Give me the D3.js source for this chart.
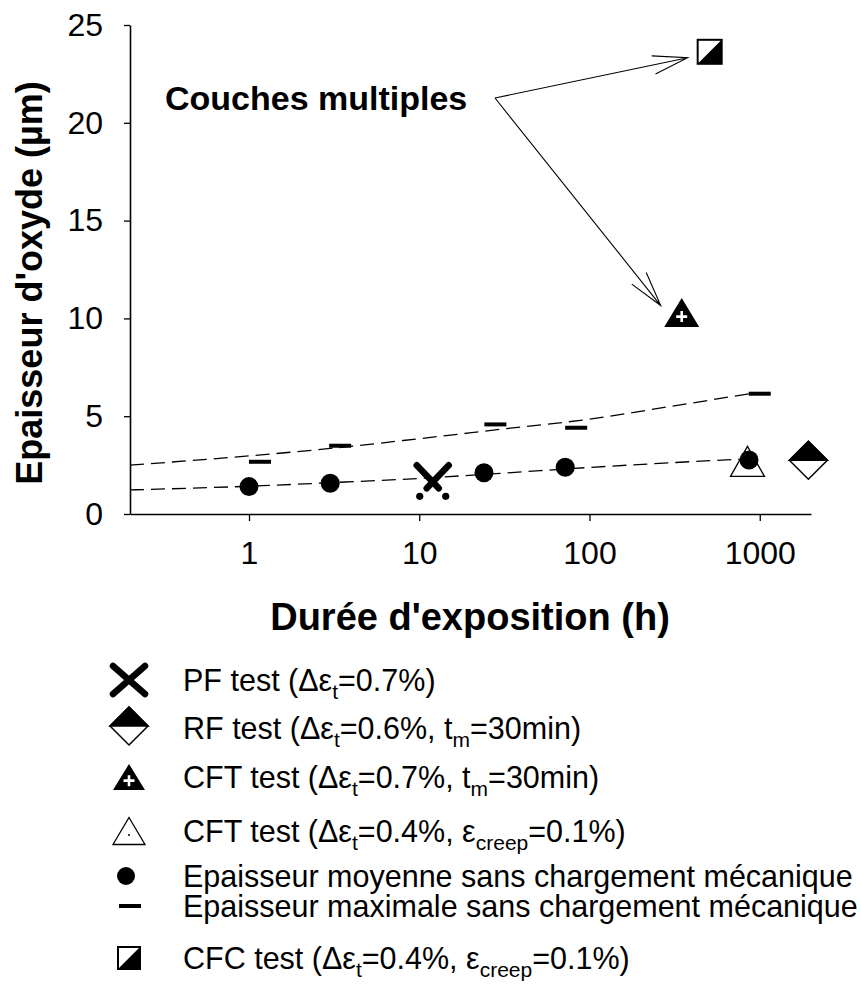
<!DOCTYPE html>
<html><head><meta charset="utf-8">
<script src="https://cdn.jsdelivr.net/npm/d3@7"></script>
<style>
html,body{margin:0;padding:0;background:#fff;}
svg{display:block;font-family:"Liberation Sans",Arial,sans-serif;}
</style></head>
<body>
<svg id="chart" width="861" height="1003"></svg>
<script>
// ---- data ----
const xTicks = [1, 10, 100, 1000];
const yTicks = [0, 5, 10, 15, 20, 25];

const meanT = [1, 3, 24, 72, 865];
const meanV = [1.40, 1.57, 2.11, 2.39, 2.76];

const maxT = [1.16, 3.43, 28, 83.5, 1000];
const maxV = [2.67, 3.49, 4.58, 4.41, 6.15];

const pfT = [12];      const pfV = [1.62];
const rfT = [1930];    const rfV = [2.75];
const cftHiT = [348];  const cftHiV = [10.3];
const cftLoT = [847];  const cftLoV = [2.69];
const cfcT = [508];    const cfcV = [23.63];

// trend lines
const fitMeanT = [0.2, 1, 3, 10, 30, 100, 300, 850];
const fitMeanV = [1.23, 1.42, 1.6, 1.82, 2.08, 2.38, 2.62, 2.82];
const fitMaxT = [0.2, 1, 3, 10, 30, 100, 300, 870];
const fitMaxV = [2.5, 2.97, 3.35, 3.85, 4.33, 4.85, 5.5, 6.15];

// ---- layout ----
const svg = d3.select("#chart");
const x = d3.scaleLog().domain([0.2, 2000]).range([130, 811]);
const y = d3.scaleLinear().domain([0, 25]).range([514, 25]);

// axes
const gx = svg.append("g").attr("transform", "translate(0,514)")
  .call(d3.axisBottom(x).tickValues(xTicks).tickFormat(d3.format("d")).tickSize(7).tickPadding(20).tickSizeOuter(0));
const gy = svg.append("g").attr("transform", "translate(130,0)")
  .call(d3.axisLeft(y).tickValues(yTicks).tickSize(6).tickPadding(21).tickSizeOuter(0));
[gx, gy].forEach(g => {
  g.select(".domain").attr("stroke", "#000").attr("stroke-width", 1.6);
  g.selectAll(".tick line").attr("stroke", "#000").attr("stroke-width", 1.3);
  g.selectAll(".tick text").attr("fill", "#000").style("font-size", "32px")
    .style("font-family", "'Liberation Sans', Arial, sans-serif");
});
gx.selectAll(".tick text").attr("dy", "0.71em");

// axis titles
svg.append("text").attr("x", 470).attr("y", 630).attr("text-anchor", "middle")
  .style("font-size", "38px").style("font-weight", "bold").text("Durée d'exposition (h)");
svg.append("text").attr("transform", "translate(42,283) rotate(-90)").attr("text-anchor", "middle")
  .style("font-size", "36px").style("font-weight", "bold").text("Epaisseur d'oxyde (µm)");

// trend lines
const line = d3.line().x(d => x(d[0])).y(d => y(d[1])).curve(d3.curveMonotoneX);
[[fitMeanT, fitMeanV], [fitMaxT, fitMaxV]].forEach(([t, v]) => {
  svg.append("path").datum(t.map((d, i) => [d, v[i]])).attr("d", line)
    .attr("fill", "none").attr("stroke", "#000").attr("stroke-width", 1.3)
    .attr("stroke-dasharray", "14,7");
});

// ---- marker drawers ----
function drawX(g, cx, cy) {
  g.append("path").attr("d", `M${cx-16},${cy-14}L${cx+16},${cy+14}M${cx+16},${cy-14}L${cx-16},${cy+14}`)
    .attr("stroke", "#000").attr("stroke-width", 6.5).attr("stroke-linecap", "round").attr("fill", "none");
}
function drawXBroken(g, cx, cy) {
  g.append("path").attr("d", `M${cx-16},${cy-17}L${cx+6},${cy+6}M${cx+16},${cy-17}L${cx-6},${cy+6}`)
    .attr("stroke", "#000").attr("stroke-width", 6.5).attr("stroke-linecap", "round").attr("fill", "none");
  g.append("circle").attr("cx", cx-13).attr("cy", cy+14).attr("r", 3.6).attr("fill", "#000");
  g.append("circle").attr("cx", cx+13).attr("cy", cy+14).attr("r", 3.6).attr("fill", "#000");
}
function drawDiamond(g, cx, cy, h) {
  g.append("path").attr("d", `M${cx},${cy-h}L${cx+h},${cy}L${cx},${cy+h}L${cx-h},${cy}Z`)
    .attr("fill", "#fff").attr("stroke", "#000").attr("stroke-width", 1.5);
  g.append("path").attr("d", `M${cx},${cy-h}L${cx+h},${cy}L${cx-h},${cy}Z`)
    .attr("fill", "#000").attr("stroke", "#000").attr("stroke-width", 1.5);
}
function drawTriFilled(g, cx, cy, w, h) {
  g.append("path").attr("d", `M${cx},${cy-h/2}L${cx+w/2},${cy+h/2}L${cx-w/2},${cy+h/2}Z`).attr("fill", "#000");
  const py = cy + h*0.14, s = 5.5;
  g.append("path").attr("d", `M${cx-s},${py}L${cx+s},${py}M${cx},${py-s}L${cx},${py+s}`)
    .attr("stroke", "#fff").attr("stroke-width", 2.6);
}
function drawTriOpen(g, cx, cy, w, h) {
  g.append("path").attr("d", `M${cx},${cy-h/2}L${cx+w/2},${cy+h/2}L${cx-w/2},${cy+h/2}Z`)
    .attr("fill", "#fff").attr("stroke", "#000").attr("stroke-width", 1.3);
  g.append("circle").attr("cx", cx).attr("cy", cy + h*0.15).attr("r", 1).attr("fill", "#000");
}
function drawCircle(g, cx, cy, r) {
  g.append("circle").attr("cx", cx).attr("cy", cy).attr("r", r).attr("fill", "#000");
}
function drawDash(g, cx, cy) {
  g.append("rect").attr("x", cx-11).attr("y", cy-2).attr("width", 22).attr("height", 4).attr("fill", "#000");
}
function drawHalfSq(g, cx, cy, s) {
  g.append("rect").attr("x", cx-s/2).attr("y", cy-s/2).attr("width", s).attr("height", s)
    .attr("fill", "#fff").attr("stroke", "#000").attr("stroke-width", 2);
  g.append("path").attr("d", `M${cx-s/2},${cy+s/2}L${cx+s/2},${cy-s/2}L${cx+s/2},${cy+s/2}Z`).attr("fill", "#000");
}

// ---- plot marks ----
const gm = svg.append("g");
maxT.forEach((t, i) => drawDash(gm, x(t), y(maxV[i])));
cftLoT.forEach((t, i) => drawTriOpen(gm, x(t), y(cftLoV[i]), 34, 30));
meanT.forEach((t, i) => drawCircle(gm, x(t), y(meanV[i]), 9.5));
pfT.forEach((t, i) => drawXBroken(gm, x(t), y(pfV[i])));
rfT.forEach((t, i) => drawDiamond(gm, x(t), y(rfV[i]), 19));
cftHiT.forEach((t, i) => drawTriFilled(gm, x(t), y(cftHiV[i]), 35, 29));
cfcT.forEach((t, i) => drawHalfSq(gm, x(t), y(cfcV[i]), 24));

// ---- annotation ----
svg.append("text").attr("x", 165).attr("y", 110).style("font-size", "34px").style("font-weight", "bold")
  .text("Couches multiples");
const ox = 495, oy = 98;
function arrow(tx, ty) {
  const ang = Math.atan2(ty - oy, tx - ox), L = 36, a = 0.26;
  const p1 = [tx - L*Math.cos(ang - a), ty - L*Math.sin(ang - a)];
  const p2 = [tx - L*Math.cos(ang + a), ty - L*Math.sin(ang + a)];
  svg.append("path").attr("d", `M${ox},${oy}L${tx},${ty}M${p1[0]},${p1[1]}L${tx},${ty}L${p2[0]},${p2[1]}`)
    .attr("fill", "none").attr("stroke", "#000").attr("stroke-width", 1.1);
}
arrow(x(cfcT[0]) - 22, y(cfcV[0]) + 6);
arrow(x(cftHiT[0]) - 21, y(cftHiV[0]) - 7);

// ---- legend ----
const legendRows = [
  {cy: 680, draw: (g, cy) => drawX(g, 129, cy), parts: [["PF test (Δε"], ["t", 1], ["=0.7%)"]]},
  {cy: 728, draw: (g, cy) => drawDiamond(g, 129, cy - 2, 19), parts: [["RF test (Δε"], ["t", 1], ["=0.6%, t"], ["m", 1], ["=30min)"]]},
  {cy: 777, draw: (g, cy) => drawTriFilled(g, 129, cy, 32, 26), parts: [["CFT test (Δε"], ["t", 1], ["=0.7%, t"], ["m", 1], ["=30min)"]]},
  {cy: 831, draw: (g, cy) => drawTriOpen(g, 129, cy, 32, 27), parts: [["CFT test (Δε"], ["t", 1], ["=0.4%, ε"], ["creep", 1], ["=0.1%)"]]},
  {cy: 876, draw: (g, cy) => drawCircle(g, 126, cy, 9), parts: [["Epaisseur moyenne sans chargement mécanique"]]},
  {cy: 906, draw: (g, cy) => drawDash(g, 130, cy), parts: [["Epaisseur maximale sans chargement mécanique"]]},
  {cy: 958, draw: (g, cy) => drawHalfSq(g, 129, cy, 22), parts: [["CFC test (Δε"], ["t", 1], ["=0.4%, ε"], ["creep", 1], ["=0.1%)"]]},
];
const gl = svg.append("g");
legendRows.forEach(r => {
  r.draw(gl, r.cy);
  const t = gl.append("text").attr("x", 183).attr("y", r.cy + 11).style("font-size", "30.5px");
  let sub = false;
  r.parts.forEach(p => {
    const ts = t.append("tspan").text(p[0]);
    if (p[1]) { ts.attr("dy", 8).style("font-size", "21px"); sub = true; }
    else if (sub) { ts.attr("dy", -8); sub = false; }
  });
});
</script>
</body></html>
